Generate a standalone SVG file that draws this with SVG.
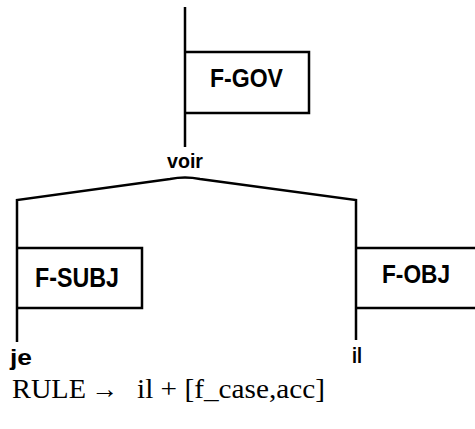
<svg xmlns="http://www.w3.org/2000/svg" width="475" height="429" viewBox="0 0 475 429">
<style>
.ln{fill:none;stroke:#000;stroke-width:2.5;stroke-linejoin:miter}
.lbl{font-family:"Liberation Sans",Arial,sans-serif;font-weight:bold;fill:#000}
.rule{font-family:"Liberation Serif","Times New Roman",serif;font-size:27px;fill:#000}
</style>
<rect width="475" height="429" fill="#fff"/>
<g id="connectors">
<path class="ln" d="M185,7 V147"/>
<path class="ln" d="M17,342 V200 L170,179 Q185,176 200,179 L356,200 V340"/>
</g>
<g id="f-gov">
<path class="ln" d="M185,52 H309 V113 H185"/>
<text class="lbl" x="210" y="87" font-size="25" textLength="73" lengthAdjust="spacingAndGlyphs">F-GOV</text>
</g>
<g id="voir">
<text class="lbl" x="167" y="168" font-size="20" textLength="36" lengthAdjust="spacingAndGlyphs">voir</text>
</g>
<g id="f-subj">
<path class="ln" d="M17,248 H142 V308 H17"/>
<text class="lbl" x="35" y="287" font-size="27" textLength="84" lengthAdjust="spacingAndGlyphs">F-SUBJ</text>
</g>
<g id="je">
<text class="lbl" x="10" y="365" font-size="22" textLength="22" lengthAdjust="spacingAndGlyphs">je</text>
</g>
<g id="f-obj">
<path class="ln" d="M478,248 H356 M356,308 H478"/>
<text class="lbl" x="382" y="283" font-size="26" textLength="68" lengthAdjust="spacingAndGlyphs">F-OBJ</text>
</g>
<g id="il">
<text class="lbl" x="352" y="363" font-size="22" textLength="10" lengthAdjust="spacingAndGlyphs">il</text>
</g>
<text class="rule" y="398"><tspan x="12" textLength="74" lengthAdjust="spacingAndGlyphs">RULE</tspan><tspan x="91" textLength="27" lengthAdjust="spacingAndGlyphs">→</tspan><tspan x="137" textLength="188" lengthAdjust="spacingAndGlyphs">il + [f_case,acc]</tspan></text>
</svg>
